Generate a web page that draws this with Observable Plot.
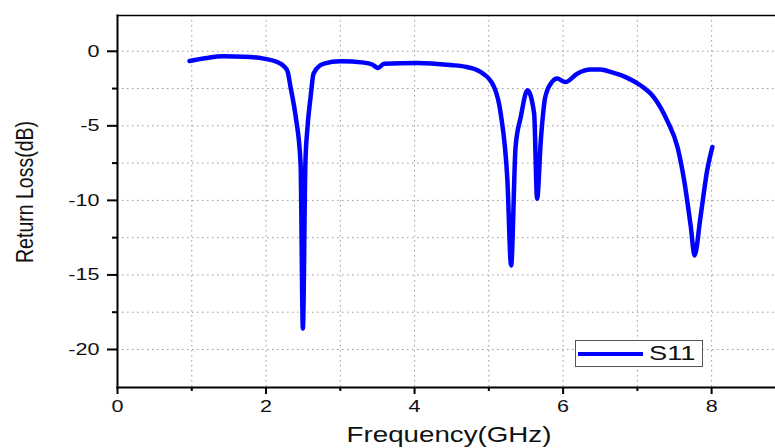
<!DOCTYPE html>
<html><head><meta charset="utf-8">
<script src="https://cdn.jsdelivr.net/npm/d3@7"></script>
<script src="https://cdn.jsdelivr.net/npm/@observablehq/plot@0.6"></script>
<style>
html,body{margin:0;padding:0;background:#fff;}
#wrap{position:relative;width:775px;height:448px;font-family:"Liberation Sans",Arial,sans-serif;}
#legend{position:absolute;left:575px;top:340px;width:126px;height:25px;border:1px solid #555;background:#fff;}
#legend .ln{position:absolute;left:2px;top:11px;width:65px;height:4px;background:#0000ff;}
#legend .tx{position:absolute;left:73px;top:0px;font-size:21px;color:#111;transform:scaleX(1.3);transform-origin:left center;}
</style></head>
<body><div id="wrap"><div id="legend"><div class="ln"></div><div class="tx">S11</div></div></div>
<script>
const freq = [0.97,1.2,1.43,1.7,1.97,2.15,2.24,2.29,2.33,2.40,2.465,2.496,2.53,2.555,2.60,2.64,2.73,2.78,3.0,3.32,3.43,3.51,3.59,4.04,4.48,4.7,4.89,5.07,5.16,5.25,5.30,5.36,5.43,5.52,5.61,5.65,5.70,5.76,5.85,5.92,6.03,6.19,6.37,6.5,6.65,6.85,7.04,7.22,7.40,7.54,7.63,7.72,7.77,7.85,7.94,8.01];
const s11 = [-0.65,-0.45,-0.34,-0.36,-0.49,-0.72,-1.0,-1.35,-2.4,-4.4,-7.5,-18.6,-7.5,-5.3,-3.07,-1.5,-0.94,-0.83,-0.67,-0.76,-0.89,-1.12,-0.83,-0.78,-0.92,-1.05,-1.39,-2.39,-4.18,-8.66,-14.36,-6.42,-4.41,-2.62,-4.18,-9.89,-5.97,-3.07,-2.06,-1.83,-2.06,-1.5,-1.23,-1.23,-1.4,-1.75,-2.28,-3.07,-4.63,-6.42,-8.66,-11.79,-13.69,-11.12,-7.99,-6.42];
const xMajor = [0,2,4,6,8];
const xMinor = [1,3,5,7];
const yMajor = [0,-5,-10,-15,-20];
const yMinor = [-2.5,-7.5,-12.5,-17.5];
const xTitle = "Frequency(GHz)";
const yTitle = "Return Loss(dB)";
const data = freq.map((f,i)=>({f, v:s11[i]}));
const chart = Plot.plot({
  width:775, height:448,
  marginLeft:117, marginTop:15, marginRight:0, marginBottom:61,
  style:{fontFamily:"Liberation Sans, Arial, sans-serif", fontSize:"17px", color:"#111", background:"#fff"},
  x:{domain:[0,8.86]},
  y:{domain:[-22.55,2.4]},
  marks:[
    Plot.gridX([...xMajor.slice(1),...xMinor],{stroke:"#999",strokeOpacity:1,strokeDasharray:"1.5,3.5",strokeWidth:1}),
    Plot.gridY([...yMajor,...yMinor],{stroke:"#999",strokeOpacity:1,strokeDasharray:"1.5,3.5",strokeWidth:1}),
    Plot.line(data,{x:"f",y:"v",stroke:"#0000ff",strokeWidth:4.5,curve:"monotone-x"}),
    Plot.axisX({ticks:xMajor,tickSize:7,tickPadding:5,tickFormat:d=>String(d),label:null,fontSize:17,strokeWidth:2,stroke:"#000"}),
    Plot.axisX({ticks:xMinor,tickSize:4,tickFormat:()=>"",label:null,strokeWidth:2,stroke:"#000"}),
    Plot.axisY({ticks:yMajor,tickSize:10,tickPadding:8,tickFormat:d=>String(d),label:null,fontSize:17,strokeWidth:2,stroke:"#000"}),
    Plot.axisY({ticks:yMinor,tickSize:5,tickFormat:()=>"",label:null,strokeWidth:2,stroke:"#000"}),
    Plot.frame({anchor:"left",stroke:"#000",strokeWidth:2}),
    Plot.frame({anchor:"bottom",stroke:"#000",strokeWidth:2}),
    Plot.frame({anchor:"top",stroke:"#000",strokeWidth:1.5})
  ]
});
document.getElementById("wrap").prepend(chart);
const svg = d3.select(chart);
// horizontal stretch of the original figure's text
svg.selectAll("text").each(function(){
  const t = this.textContent;
  if (!t) return;
  const L = this.getComputedTextLength();
  this.setAttribute("textLength", (L*1.27).toFixed(1));
  this.setAttribute("lengthAdjust","spacingAndGlyphs");
});
const xt = svg.append("text").attr("x",449).attr("y",442).attr("text-anchor","middle")
  .style("font-size","22px").style("font-family","Liberation Sans, Arial, sans-serif").style("fill","#111").text(xTitle);
const xl = xt.node().getComputedTextLength();
xt.attr("textLength",(xl*1.26).toFixed(1)).attr("lengthAdjust","spacingAndGlyphs");
svg.append("text").attr("transform","translate(33,192) scale(1.25,1) rotate(-90)").attr("text-anchor","middle")
  .style("font-size","19.5px").style("font-family","Liberation Sans, Arial, sans-serif").style("fill","#111").text(yTitle);
</script></body></html>
